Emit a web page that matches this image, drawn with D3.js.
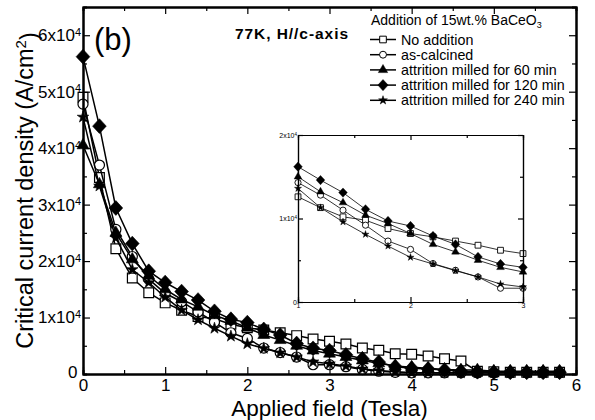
<!DOCTYPE html>
<html>
<head>
<meta charset="utf-8">
<script src="https://cdn.jsdelivr.net/npm/d3@7"></script>
<style>
  body { margin: 0; background: #fff; }
  svg { display: block; font-family: "Liberation Sans", Arial, sans-serif; }
</style>
</head>
<body>
<div id="plot"></div>
<script>
// applied field (Tesla)
var field = [0, 0.2, 0.4, 0.6, 0.8, 1.0, 1.2, 1.4, 1.6, 1.8, 2.0, 2.2, 2.4, 2.6, 2.8,
  3.0, 3.2, 3.4, 3.6, 3.8, 4.0, 4.2, 4.4, 4.6, 4.8, 5.0, 5.2, 5.4, 5.6, 5.8];

// critical current density (A/cm2)
var noAddition = [49000, 34800, 22200, 17000, 14400, 12600, 11300, 10200, 9800, 8800, 8200,
  7800, 7300, 6800, 6200, 5800, 5300, 4600, 4200, 3600, 3500, 3200, 2700, 2300, 500,
  400, 300, 300, 300, 300];
var asCalcined = [47800, 37000, 25600, 20800, 16800, 14300, 12800, 11000, 9200, 7300, 6300,
  4600, 3800, 3000, 1650, 1650, 1300, 800, 500, 300, 200, 200, 200, 200, 200,
  200, 200, 200, 200, 200];
var milled60 = [40500, 33600, 25000, 20300, 17400, 15000, 13200, 11900, 10400, 9400, 8200,
  6900, 6000, 5000, 4150, 3600, 3000, 2400, 1900, 1400, 1200, 1000, 800, 700, 700,
  500, 500, 500, 500, 500];
var milled120 = [56200, 43900, 29400, 23100, 18200, 16200, 14600, 13100, 11100, 9700, 9100,
  7900, 6900, 5400, 4550, 4150, 3400, 2700, 2100, 1300, 1000, 900, 700, 500, 400,
  300, 300, 300, 300, 300];
var milled240 = [45500, 33300, 24100, 18500, 16200, 13600, 11300, 9600, 8100, 6700, 5350,
  4550, 3750, 3000, 2150, 1800, 1400, 900, 600, 400, 200, 200, 200, 200, 200,
  200, 200, 200, 200, 200];

var seriesNames = ["No addition", "as-calcined", "attrition milled for 60 min",
  "attrition milled for 120 min", "attrition milled for 240 min"];

var xTicks = [0, 1, 2, 3, 4, 5, 6];
var xMinor = [0.5, 1.5, 2.5, 3.5, 4.5, 5.5];
var yTicks = [0, 10000, 20000, 30000, 40000, 50000, 60000];
var yMinor = [5000, 15000, 25000, 35000, 45000, 55000];
var insetXTicks = [1, 2, 3];
var insetXMinor = [1.5, 2.5];
var insetYTicks = [0, 10000, 20000];
var insetYMinor = [5000, 15000];

/*********************** Layout *********************/
var margin = { top: 7, right: 19, bottom: 46, left: 83 };
var width = 595 - margin.left - margin.right,
  height = 420 - margin.top - margin.bottom;

var inset = { left: 298, top: 135, width: 225, height: 167 };

var svg = d3.select("#plot").append("svg")
  .attr("width", 595)
  .attr("height", 420);

var xScale = d3.scaleLinear().domain([0, 6]).range([0, width]);
var yScale = d3.scaleLinear().domain([0, 65000]).range([height, 0]);

var ixScale = d3.scaleLinear().domain([1, 3]).range([0, inset.width]);
var iyScale = d3.scaleLinear().domain([0, 20000]).range([inset.height, 0]);

var diamond = {
  draw: function (context, size) {
    var r = Math.sqrt(size) / Math.SQRT2 * 1.05;
    context.moveTo(0, -r * 1.08);
    context.lineTo(r, 0);
    context.lineTo(0, r * 1.08);
    context.lineTo(-r, 0);
    context.closePath();
  }
};

var series = [
  { name: seriesNames[0], values: noAddition, type: d3.symbolSquare, fill: "#fff", size: [95, 34, 44] },
  { name: seriesNames[1], values: asCalcined, type: d3.symbolCircle, fill: "#fff", size: [80, 30, 38] },
  { name: seriesNames[2], values: milled60, type: d3.symbolTriangle, fill: "#000", size: [62, 26, 38] },
  { name: seriesNames[3], values: milled120, type: diamond, fill: "#000", size: [85, 34, 48] },
  { name: seriesNames[4], values: milled240, type: d3.symbolStar, fill: "#000", size: [42, 16, 24] }
];

function points(s) {
  return field.map(function (f, i) { return { x: f, y: s.values[i] }; });
}

/*********************** Main plot *********************/
var plot = svg.append("g")
  .attr("transform", "translate(" + margin.left + "," + margin.top + ")");

var mainLine = d3.line()
  .x(function (d) { return xScale(d.x); })
  .y(function (d) { return yScale(d.y); });

series.forEach(function (s) {
  var pts = points(s);
  plot.append("path")
    .datum(pts)
    .attr("d", mainLine)
    .attr("fill", "none")
    .attr("stroke", "#000")
    .attr("stroke-width", 1.5);
  plot.selectAll(null)
    .data(pts)
    .enter().append("path")
    .attr("transform", function (d) { return "translate(" + xScale(d.x) + "," + yScale(d.y) + ")"; })
    .attr("d", d3.symbol().type(s.type).size(s.size[0]))
    .attr("fill", s.fill)
    .attr("stroke", "#000")
    .attr("stroke-width", s.fill === "#fff" ? 1.2 : 0.6);
});

function sciLabels(g, supSize, zeroShift) {
  g.selectAll(".tick text").each(function (d) {
    var t = d3.select(this);
    if (d === 0) {
      t.text("0");
      if (zeroShift) t.attr("dx", -zeroShift).attr("dy", "0.2em");
      return;
    }
    t.text(null);
    t.append("tspan").text((d / 10000) + "x10");
    t.append("tspan").attr("dy", "-0.5em").attr("font-size", supSize).text("4");
  });
}

function styleAxis(g, size, strokeW) {
  g.attr("font-family", null).attr("font-size", size);
  g.select(".domain").attr("stroke-width", strokeW);
  g.selectAll(".tick line").attr("stroke-width", 1.2);
  g.selectAll(".tick text").attr("fill", "#000");
}

// minor ticks
plot.append("g").attr("transform", "translate(0," + height + ")")
  .call(d3.axisBottom(xScale).tickValues(xMinor).tickSize(-4).tickFormat(""))
  .call(styleAxis, 17, 2);
plot.append("g")
  .call(d3.axisTop(xScale).tickValues(xMinor).tickSize(-4).tickFormat(""))
  .call(styleAxis, 17, 2);
plot.append("g")
  .call(d3.axisLeft(yScale).tickValues(yMinor).tickSize(-4).tickFormat(""))
  .call(styleAxis, 17, 2);
plot.append("g").attr("transform", "translate(" + width + ",0)")
  .call(d3.axisRight(yScale).tickValues(yMinor).tickSize(-4).tickFormat(""))
  .call(styleAxis, 17, 2);

// major ticks
plot.append("g").attr("transform", "translate(0," + height + ")")
  .call(d3.axisBottom(xScale).tickValues(xTicks).tickSize(-7).tickSizeOuter(0).tickPadding(4.5).tickFormat(d3.format("d")))
  .call(styleAxis, 17, 2);
plot.append("g")
  .call(d3.axisTop(xScale).tickValues(xTicks).tickSize(-7).tickSizeOuter(0).tickFormat(""))
  .call(styleAxis, 17, 2);
plot.append("g")
  .call(d3.axisLeft(yScale).tickValues(yTicks).tickSize(-7).tickSizeOuter(0).tickPadding(2))
  .call(styleAxis, 17, 2)
  .call(sciLabels, 11, 3.5);
plot.append("g").attr("transform", "translate(" + width + ",0)")
  .call(d3.axisRight(yScale).tickValues(yTicks).tickSize(-7).tickSizeOuter(0).tickFormat(""))
  .call(styleAxis, 17, 2);

/*********************** Inset *********************/
var ig = svg.append("g")
  .attr("transform", "translate(" + inset.left + "," + inset.top + ")");

ig.append("rect")
  .attr("width", inset.width)
  .attr("height", inset.height)
  .attr("fill", "#fff");

var insetLine = d3.line()
  .x(function (d) { return ixScale(d.x); })
  .y(function (d) { return iyScale(d.y); });

series.forEach(function (s) {
  var pts = points(s).filter(function (d) { return d.x >= 1 && d.x <= 3.001; });
  ig.append("path")
    .datum(pts)
    .attr("d", insetLine)
    .attr("fill", "none")
    .attr("stroke", "#000")
    .attr("stroke-width", 0.8);
  ig.selectAll(null)
    .data(pts)
    .enter().append("path")
    .attr("transform", function (d) { return "translate(" + ixScale(d.x) + "," + iyScale(d.y) + ")"; })
    .attr("d", d3.symbol().type(s.type).size(s.size[1]))
    .attr("fill", s.fill)
    .attr("stroke", "#000")
    .attr("stroke-width", s.fill === "#fff" ? 0.9 : 0.4);
});

ig.append("g").attr("transform", "translate(0," + inset.height + ")")
  .call(d3.axisBottom(ixScale).tickValues(insetXMinor).tickSize(-3).tickFormat(""))
  .call(styleAxis, 7, 1.2);
ig.append("g").attr("transform", "translate(0," + inset.height + ")")
  .call(d3.axisBottom(ixScale).tickValues(insetXTicks).tickSize(-5).tickSizeOuter(0).tickPadding(1).tickFormat(d3.format("d")))
  .call(styleAxis, 7, 1.2);
ig.append("g")
  .call(d3.axisTop(ixScale).tickValues(insetXMinor).tickSize(-3).tickFormat(""))
  .call(styleAxis, 7, 1.2);
ig.append("g")
  .call(d3.axisTop(ixScale).tickValues(insetXTicks).tickSize(-5).tickSizeOuter(0).tickFormat(""))
  .call(styleAxis, 7, 1.2);
ig.append("g")
  .call(d3.axisLeft(iyScale).tickValues(insetYMinor).tickSize(-3).tickFormat(""))
  .call(styleAxis, 7, 1.2);
ig.append("g")
  .call(d3.axisLeft(iyScale).tickValues(insetYTicks).tickSize(-5).tickSizeOuter(0).tickPadding(1))
  .call(styleAxis, 7, 1.2)
  .call(sciLabels, 4.5, 0);
ig.append("g").attr("transform", "translate(" + inset.width + ",0)")
  .call(d3.axisRight(iyScale).tickValues(insetYMinor).tickSize(-3).tickFormat(""))
  .call(styleAxis, 7, 1.2);
ig.append("g").attr("transform", "translate(" + inset.width + ",0)")
  .call(d3.axisRight(iyScale).tickValues(insetYTicks).tickSize(-5).tickSizeOuter(0).tickFormat(""))
  .call(styleAxis, 7, 1.2);

/*********************** Texts *********************/
svg.append("text")
  .attr("x", margin.left + width / 2)
  .attr("y", 415.5)
  .attr("text-anchor", "middle")
  .attr("font-size", 22.5)
  .text("Applied field (Tesla)");

var yTitle = svg.append("text")
  .attr("transform", "translate(33," + (margin.top + height / 2) + ") rotate(-90)")
  .attr("text-anchor", "middle")
  .attr("font-size", 23.5);
yTitle.append("tspan").text("Critical current density (A/cm");
yTitle.append("tspan").attr("dy", "-0.45em").attr("font-size", 15).text("2");
yTitle.append("tspan").attr("dy", "0.45em").text(")");

svg.append("text")
  .attr("x", 94)
  .attr("y", 50)
  .attr("font-size", 31)
  .text("(b)");

svg.append("text")
  .attr("x", 235)
  .attr("y", 39)
  .attr("font-size", 15.5)
  .attr("font-weight", "bold")
  .attr("textLength", 113)
  .text("77K, H//c-axis");

/*********************** Legend *********************/
var legendTitle = svg.append("text")
  .attr("x", 371)
  .attr("y", 25)
  .attr("font-size", 14);
legendTitle.append("tspan").text("Addition of 15wt.% BaCeO");
legendTitle.append("tspan").attr("dy", "0.35em").attr("font-size", 9).text("3");

var legend = svg.append("g").attr("transform", "translate(370,44.5)");

var rows = legend.selectAll("g")
  .data(series)
  .enter().append("g")
  .attr("transform", function (d, i) { return "translate(0," + (i * 15.2) + ")"; });

rows.append("line")
  .attr("x1", 0).attr("x2", 26)
  .attr("y1", -5).attr("y2", -5)
  .attr("stroke", "#000")
  .attr("stroke-width", 1.5);

rows.append("path")
  .attr("transform", "translate(13,-5)")
  .attr("d", function (d) { return d3.symbol().type(d.type).size(d.size[2])(); })
  .attr("fill", function (d) { return d.fill; })
  .attr("stroke", "#000")
  .attr("stroke-width", function (d) { return d.fill === "#fff" ? 1 : 0.5; });

rows.append("text")
  .attr("x", 31)
  .attr("font-size", 14.3)
  .text(function (d) { return d.name; });
</script>
</body>
</html>
